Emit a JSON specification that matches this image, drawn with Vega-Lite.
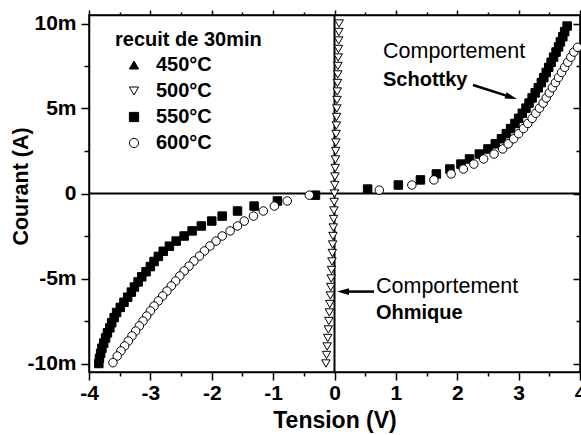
{
  "$schema": "https://vega.github.io/schema/vega-lite/v6.json",
  "width": 491,
  "height": 357,
  "autosize": {"type": "none"},
  "padding": {"left": 89, "top": 15, "right": 1, "bottom": 63},
  "background": "white",
  "config": {
    "font": "Liberation Sans",
    "view": {"stroke": "black", "strokeWidth": 1.5},
    "axis": {
      "domainColor": "black", "domainWidth": 1.5,
      "tickColor": "black", "tickWidth": 1.5,
      "labelColor": "black", "titleColor": "black",
      "labelFont": "Liberation Sans", "titleFont": "Liberation Sans",
      "labelFontWeight": "bold", "titleFontWeight": "bold",
      "labelFontSize": 21, "titleFontSize": 21,
      "grid": false, "labelFlush": false, "labelOverlap": false
    },
    "legend": {
      "orient": "none", "legendX": 26, "legendY": 15,
      "titleFontSize": 20, "titleFontWeight": "bold", "titleFont": "Liberation Sans", "titleColor": "black",
      "titlePadding": 5, "labelFontSize": 20, "labelFontWeight": "bold", "labelFont": "Liberation Sans", "labelColor": "black",
      "symbolSize": 85, "symbolStrokeWidth": 1, "symbolOffset": 9, "labelOffset": 12,
      "rowPadding": 6, "padding": 0
    }
  },
  "resolve": {"axis": {"x": "independent", "y": "independent"}},
  "layer": [
    {
      "data": {"values": [{"V": 0}]},
      "mark": {"type": "rule", "color": "black", "strokeWidth": 2},
      "encoding": {
        "x": {
          "field": "V", "type": "quantitative",
          "scale": {"domain": [-4, 4], "nice": false, "zero": false},
          "axis": {
            "orient": "top", "labels": false, "title": null,
            "values": [-4, -3.5, -3, -2.5, -2, -1.5, -1, -0.5, 0, 0.5, 1, 1.5, 2, 2.5, 3, 3.5, 4],
            "tickSize": {"condition": {"test": "datum.value % 1 === 0", "value": 5}, "value": 3}
          }
        }
      }
    },
    {
      "data": {"values": [{"I": 0}]},
      "mark": {"type": "rule", "color": "black", "strokeWidth": 2},
      "encoding": {
        "y": {
          "field": "I", "type": "quantitative",
          "scale": {"domain": [-10.5, 10.5], "nice": false, "zero": false},
          "axis": {
            "orient": "right", "labels": false, "title": null,
            "values": [-10, -7.5, -5, -2.5, 0, 2.5, 5, 7.5, 10],
            "tickSize": {"condition": {"test": "datum.value % 5 === 0", "value": -7}, "value": -4}
          }
        }
      }
    },
    {
      "data": {"values": [
        {"T": "500°C", "V": 0.075, "I": 10}, {"T": "500°C", "V": 0.071, "I": 9.5}, {"T": "500°C", "V": 0.068, "I": 9},
        {"T": "500°C", "V": 0.064, "I": 8.5}, {"T": "500°C", "V": 0.06, "I": 8}, {"T": "500°C", "V": 0.056, "I": 7.5},
        {"T": "500°C", "V": 0.053, "I": 7}, {"T": "500°C", "V": 0.049, "I": 6.5}, {"T": "500°C", "V": 0.045, "I": 6},
        {"T": "500°C", "V": 0.041, "I": 5.5}, {"T": "500°C", "V": 0.038, "I": 5}, {"T": "500°C", "V": 0.034, "I": 4.5},
        {"T": "500°C", "V": 0.03, "I": 4}, {"T": "500°C", "V": 0.026, "I": 3.5}, {"T": "500°C", "V": 0.023, "I": 3},
        {"T": "500°C", "V": 0.019, "I": 2.5}, {"T": "500°C", "V": 0.015, "I": 2}, {"T": "500°C", "V": 0.011, "I": 1.5},
        {"T": "500°C", "V": 0.008, "I": 1}, {"T": "500°C", "V": 0.004, "I": 0.5}, {"T": "500°C", "V": 0, "I": 0},
        {"T": "500°C", "V": -0.005, "I": -0.5}, {"T": "500°C", "V": -0.01, "I": -1}, {"T": "500°C", "V": -0.015, "I": -1.5},
        {"T": "500°C", "V": -0.02, "I": -2}, {"T": "500°C", "V": -0.025, "I": -2.5}, {"T": "500°C", "V": -0.031, "I": -3},
        {"T": "500°C", "V": -0.036, "I": -3.5}, {"T": "500°C", "V": -0.042, "I": -4}, {"T": "500°C", "V": -0.048, "I": -4.5},
        {"T": "500°C", "V": -0.054, "I": -5}, {"T": "500°C", "V": -0.061, "I": -5.5}, {"T": "500°C", "V": -0.068, "I": -6},
        {"T": "500°C", "V": -0.076, "I": -6.5}, {"T": "500°C", "V": -0.084, "I": -7}, {"T": "500°C", "V": -0.092, "I": -7.5},
        {"T": "500°C", "V": -0.101, "I": -8}, {"T": "500°C", "V": -0.11, "I": -8.5}, {"T": "500°C", "V": -0.12, "I": -9},
        {"T": "500°C", "V": -0.13, "I": -9.5}, {"T": "500°C", "V": -0.14, "I": -10},

        {"T": "550°C", "V": -0.31, "I": -0.1}, {"T": "550°C", "V": -0.93, "I": -0.44}, {"T": "550°C", "V": -1.31, "I": -0.74},
        {"T": "550°C", "V": -1.58, "I": -1.03}, {"T": "550°C", "V": -1.83, "I": -1.33}, {"T": "550°C", "V": -2.0, "I": -1.62},
        {"T": "550°C", "V": -2.17, "I": -1.91}, {"T": "550°C", "V": -2.32, "I": -2.2}, {"T": "550°C", "V": -2.45, "I": -2.5},
        {"T": "550°C", "V": -2.58, "I": -2.8}, {"T": "550°C", "V": -2.69, "I": -3.1}, {"T": "550°C", "V": -2.79, "I": -3.4},
        {"T": "550°C", "V": -2.87, "I": -3.7}, {"T": "550°C", "V": -2.94, "I": -4.0}, {"T": "550°C", "V": -3.0, "I": -4.3},
        {"T": "550°C", "V": -3.07, "I": -4.6}, {"T": "550°C", "V": -3.14, "I": -4.9}, {"T": "550°C", "V": -3.2, "I": -5.2},
        {"T": "550°C", "V": -3.26, "I": -5.5}, {"T": "550°C", "V": -3.31, "I": -5.8}, {"T": "550°C", "V": -3.37, "I": -6.1},
        {"T": "550°C", "V": -3.43, "I": -6.4}, {"T": "550°C", "V": -3.49, "I": -6.7}, {"T": "550°C", "V": -3.55, "I": -7.0},
        {"T": "550°C", "V": -3.59, "I": -7.3}, {"T": "550°C", "V": -3.63, "I": -7.6}, {"T": "550°C", "V": -3.66, "I": -7.9},
        {"T": "550°C", "V": -3.7, "I": -8.2}, {"T": "550°C", "V": -3.73, "I": -8.5}, {"T": "550°C", "V": -3.76, "I": -8.8},
        {"T": "550°C", "V": -3.79, "I": -9.1}, {"T": "550°C", "V": -3.81, "I": -9.4}, {"T": "550°C", "V": -3.83, "I": -9.7},
        {"T": "550°C", "V": -3.84, "I": -10.0},
        {"T": "550°C", "V": 0.54, "I": 0.26}, {"T": "550°C", "V": 1.04, "I": 0.5}, {"T": "550°C", "V": 1.4, "I": 0.8},
        {"T": "550°C", "V": 1.66, "I": 1.15}, {"T": "550°C", "V": 1.88, "I": 1.44}, {"T": "550°C", "V": 2.06, "I": 1.73},
        {"T": "550°C", "V": 2.2, "I": 2.03}, {"T": "550°C", "V": 2.36, "I": 2.32}, {"T": "550°C", "V": 2.5, "I": 2.62},
        {"T": "550°C", "V": 2.62, "I": 2.92}, {"T": "550°C", "V": 2.72, "I": 3.22}, {"T": "550°C", "V": 2.8, "I": 3.52},
        {"T": "550°C", "V": 2.87, "I": 3.82}, {"T": "550°C", "V": 2.94, "I": 4.12}, {"T": "550°C", "V": 3.0, "I": 4.42},
        {"T": "550°C", "V": 3.06, "I": 4.72}, {"T": "550°C", "V": 3.12, "I": 5.02}, {"T": "550°C", "V": 3.17, "I": 5.32},
        {"T": "550°C", "V": 3.22, "I": 5.62}, {"T": "550°C", "V": 3.27, "I": 5.92}, {"T": "550°C", "V": 3.32, "I": 6.22},
        {"T": "550°C", "V": 3.37, "I": 6.52}, {"T": "550°C", "V": 3.41, "I": 6.82}, {"T": "550°C", "V": 3.45, "I": 7.12},
        {"T": "550°C", "V": 3.49, "I": 7.42}, {"T": "550°C", "V": 3.53, "I": 7.72}, {"T": "550°C", "V": 3.57, "I": 8.02},
        {"T": "550°C", "V": 3.61, "I": 8.32}, {"T": "550°C", "V": 3.65, "I": 8.62}, {"T": "550°C", "V": 3.68, "I": 8.92},
        {"T": "550°C", "V": 3.72, "I": 9.22}, {"T": "550°C", "V": 3.75, "I": 9.52}, {"T": "550°C", "V": 3.79, "I": 9.85},

        {"T": "600°C", "V": -0.41, "I": -0.1}, {"T": "600°C", "V": -0.77, "I": -0.44}, {"T": "600°C", "V": -0.98, "I": -0.74},
        {"T": "600°C", "V": -1.16, "I": -1.03}, {"T": "600°C", "V": -1.32, "I": -1.33}, {"T": "600°C", "V": -1.47, "I": -1.62},
        {"T": "600°C", "V": -1.58, "I": -1.91}, {"T": "600°C", "V": -1.7, "I": -2.2}, {"T": "600°C", "V": -1.83, "I": -2.5},
        {"T": "600°C", "V": -1.93, "I": -2.8}, {"T": "600°C", "V": -2.03, "I": -3.09}, {"T": "600°C", "V": -2.12, "I": -3.38},
        {"T": "600°C", "V": -2.2, "I": -3.68}, {"T": "600°C", "V": -2.29, "I": -3.97}, {"T": "600°C", "V": -2.37, "I": -4.27},
        {"T": "600°C", "V": -2.45, "I": -4.56}, {"T": "600°C", "V": -2.52, "I": -4.85}, {"T": "600°C", "V": -2.59, "I": -5.15},
        {"T": "600°C", "V": -2.66, "I": -5.44}, {"T": "600°C", "V": -2.73, "I": -5.74}, {"T": "600°C", "V": -2.8, "I": -6.03},
        {"T": "600°C", "V": -2.87, "I": -6.32}, {"T": "600°C", "V": -2.94, "I": -6.62}, {"T": "600°C", "V": -3.0, "I": -6.91},
        {"T": "600°C", "V": -3.06, "I": -7.21}, {"T": "600°C", "V": -3.12, "I": -7.5}, {"T": "600°C", "V": -3.18, "I": -7.79},
        {"T": "600°C", "V": -3.24, "I": -8.09}, {"T": "600°C", "V": -3.3, "I": -8.38}, {"T": "600°C", "V": -3.36, "I": -8.68},
        {"T": "600°C", "V": -3.42, "I": -8.97}, {"T": "600°C", "V": -3.48, "I": -9.26}, {"T": "600°C", "V": -3.54, "I": -9.56},
        {"T": "600°C", "V": -3.61, "I": -9.95},
        {"T": "600°C", "V": 0.73, "I": 0.2}, {"T": "600°C", "V": 1.26, "I": 0.5}, {"T": "600°C", "V": 1.62, "I": 0.8},
        {"T": "600°C", "V": 1.9, "I": 1.15}, {"T": "600°C", "V": 2.1, "I": 1.44}, {"T": "600°C", "V": 2.27, "I": 1.73},
        {"T": "600°C", "V": 2.43, "I": 2.03}, {"T": "600°C", "V": 2.6, "I": 2.32}, {"T": "600°C", "V": 2.74, "I": 2.62},
        {"T": "600°C", "V": 2.83, "I": 2.92}, {"T": "600°C", "V": 2.92, "I": 3.22}, {"T": "600°C", "V": 3.0, "I": 3.52},
        {"T": "600°C", "V": 3.08, "I": 3.82}, {"T": "600°C", "V": 3.15, "I": 4.12}, {"T": "600°C", "V": 3.22, "I": 4.42},
        {"T": "600°C", "V": 3.28, "I": 4.72}, {"T": "600°C", "V": 3.34, "I": 5.02}, {"T": "600°C", "V": 3.4, "I": 5.32},
        {"T": "600°C", "V": 3.45, "I": 5.62}, {"T": "600°C", "V": 3.5, "I": 5.92}, {"T": "600°C", "V": 3.55, "I": 6.22},
        {"T": "600°C", "V": 3.6, "I": 6.52}, {"T": "600°C", "V": 3.65, "I": 6.82}, {"T": "600°C", "V": 3.7, "I": 7.12},
        {"T": "600°C", "V": 3.75, "I": 7.42}, {"T": "600°C", "V": 3.8, "I": 7.72}, {"T": "600°C", "V": 3.85, "I": 8.02},
        {"T": "600°C", "V": 3.9, "I": 8.32}, {"T": "600°C", "V": 3.96, "I": 8.6}
      ]},
      "mark": {"type": "point", "filled": true, "strokeWidth": 1, "opacity": 1, "size": 72},
      "encoding": {
        "x": {
          "field": "V", "type": "quantitative",
          "scale": {"domain": [-4, 4], "nice": false, "zero": false},
          "axis": {
            "orient": "bottom", "title": "Tension (V)", "titleFontSize": 23,
            "values": [-4, -3.5, -3, -2.5, -2, -1.5, -1, -0.5, 0, 0.5, 1, 1.5, 2, 2.5, 3, 3.5, 4],
            "labelExpr": "datum.value % 1 === 0 ? '' + datum.value : ''",
            "tickSize": {"condition": {"test": "datum.value % 1 === 0", "value": 8}, "value": 4},
            "labelPadding": 2, "titlePadding": 6
          }
        },
        "y": {
          "field": "I", "type": "quantitative",
          "scale": {"domain": [-10.5, 10.5], "nice": false, "zero": false},
          "axis": {
            "orient": "left", "title": "Courant (A)", "titleFontSize": 21.5,
            "values": [-10, -7.5, -5, -2.5, 0, 2.5, 5, 7.5, 10],
            "labelExpr": "datum.value % 5 === 0 ? (datum.value === 0 ? '0' : datum.value + 'm') : ''",
            "tickSize": {"condition": {"test": "datum.value % 5 === 0", "value": 8}, "value": 5},
            "labelPadding": 5, "titleX": -57, "titleY": 171
          }
        },
        "fill": {
          "field": "T", "type": "nominal",
          "scale": {"domain": ["450°C", "500°C", "550°C", "600°C"], "range": ["black", "white", "black", "white"]},
          "legend": {"title": "recuit de 30min"}
        },
        "stroke": {
          "field": "T", "type": "nominal",
          "scale": {"domain": ["450°C", "500°C", "550°C", "600°C"], "range": ["black", "black", "black", "black"]},
          "legend": {"title": "recuit de 30min"}
        },
        "shape": {
          "field": "T", "type": "nominal",
          "scale": {"domain": ["450°C", "500°C", "550°C", "600°C"], "range": ["triangle-up", "triangle-down", "square", "circle"]},
          "legend": {"title": "recuit de 30min"}
        }
      }
    },
    {
      "data": {"values": [
        {"V": 0.79, "I": 8.32, "t": "Comportement"},
        {"V": 0.676, "I": -5.5, "t": "Comportement"}
      ]},
      "mark": {"type": "text", "align": "left", "baseline": "middle", "fontSize": 21.5, "font": "Liberation Sans", "color": "black"},
      "encoding": {
        "x": {"field": "V", "type": "quantitative", "scale": {"domain": [-4, 4], "nice": false, "zero": false}, "axis": null},
        "y": {"field": "I", "type": "quantitative", "scale": {"domain": [-10.5, 10.5], "nice": false, "zero": false}, "axis": null},
        "text": {"field": "t"}
      }
    },
    {
      "data": {"values": [
        {"V": 0.79, "I": 6.68, "t": "Schottky"},
        {"V": 0.676, "I": -7.03, "t": "Ohmique"}
      ]},
      "mark": {"type": "text", "align": "left", "baseline": "middle", "fontSize": 20, "font": "Liberation Sans", "fontWeight": "bold", "color": "black"},
      "encoding": {
        "x": {"field": "V", "type": "quantitative", "scale": {"domain": [-4, 4], "nice": false, "zero": false}, "axis": null},
        "y": {"field": "I", "type": "quantitative", "scale": {"domain": [-10.5, 10.5], "nice": false, "zero": false}, "axis": null},
        "text": {"field": "t"}
      }
    },
    {
      "data": {"values": [
        {"V": 2.257, "I": 6.38, "V2": 2.85, "I2": 5.7},
        {"V": 0.644, "I": -5.77, "V2": 0.15, "I2": -5.77}
      ]},
      "mark": {"type": "rule", "color": "black", "strokeWidth": 2.5},
      "encoding": {
        "x": {"field": "V", "type": "quantitative", "scale": {"domain": [-4, 4], "nice": false, "zero": false}, "axis": null},
        "y": {"field": "I", "type": "quantitative", "scale": {"domain": [-10.5, 10.5], "nice": false, "zero": false}, "axis": null},
        "x2": {"field": "V2"},
        "y2": {"field": "I2"}
      }
    },
    {
      "data": {"values": [{"V": 2.88, "I": 5.66}]},
      "mark": {"type": "point", "shape": "M1,0L-1,-0.55L-1,0.55Z", "filled": true, "color": "black", "opacity": 1, "size": 144, "angle": 17.7},
      "encoding": {
        "x": {"field": "V", "type": "quantitative", "scale": {"domain": [-4, 4], "nice": false, "zero": false}, "axis": null},
        "y": {"field": "I", "type": "quantitative", "scale": {"domain": [-10.5, 10.5], "nice": false, "zero": false}, "axis": null}
      }
    },
    {
      "data": {"values": [{"V": 0.138, "I": -5.77}]},
      "mark": {"type": "point", "shape": "M1,0L-1,-0.55L-1,0.55Z", "filled": true, "color": "black", "opacity": 1, "size": 144, "angle": 180},
      "encoding": {
        "x": {"field": "V", "type": "quantitative", "scale": {"domain": [-4, 4], "nice": false, "zero": false}, "axis": null},
        "y": {"field": "I", "type": "quantitative", "scale": {"domain": [-10.5, 10.5], "nice": false, "zero": false}, "axis": null}
      }
    }
  ]
}
